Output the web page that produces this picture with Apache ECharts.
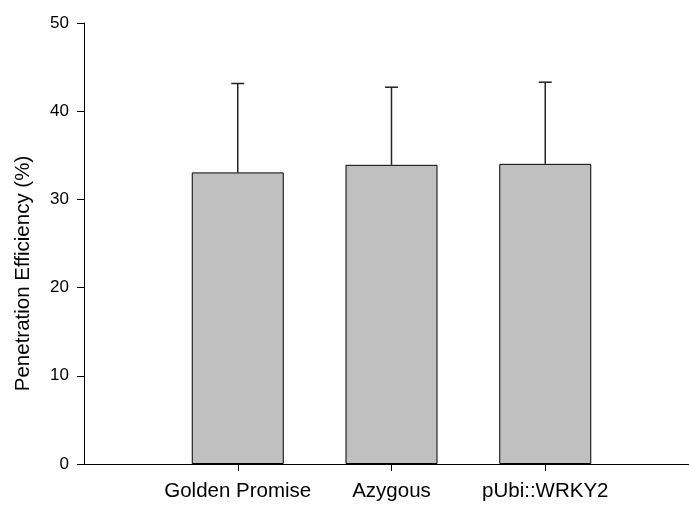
<!DOCTYPE html>
<html>
<head>
<meta charset="utf-8">
<script src="https://cdn.jsdelivr.net/npm/echarts@6/dist/echarts.min.js"></script>
<style>
  html, body { margin: 0; padding: 0; background: #fff; }
  #chart { width: 689px; height: 505px; }
</style>
</head>
<body>
<div id="chart"></div>
<script>
// Lines and their measured penetration efficiency
const categories = ['Golden Promise', 'Azygous', 'pUbi::WRKY2'];
const means = [33.06, 33.92, 34.03];
const errors = [10.08, 8.80, 9.26];
const yTicks = [0, 10, 20, 30, 40, 50];

const FONT = '"Liberation Sans", Arial, sans-serif';
const positions = categories.map((c, i) => i + 1);

const chart = echarts.init(document.getElementById('chart'), null, { renderer: 'canvas' });

chart.setOption({
  animation: false,
  backgroundColor: '#ffffff',
  // the x axis runs on past the right edge of the canvas
  grid: { left: 84, width: 615, top: 23, height: 441, containLabel: false, outerBoundsMode: 'none' },
  xAxis: {
    type: 'value',
    min: 0,
    max: 4,
    interval: 1,
    splitLine: { show: false },
    axisLine: { show: true, lineStyle: { color: '#000', width: 1 } },
    axisTick: { show: true, length: 7, customValues: positions, lineStyle: { color: '#000', width: 1 } },
    axisLabel: {
      customValues: positions,
      margin: 17,
      color: '#000',
      fontFamily: FONT,
      fontSize: 20.5,
      formatter: v => categories[Math.round(v) - 1] || ''
    }
  },
  yAxis: {
    type: 'value',
    min: yTicks[0],
    max: yTicks[yTicks.length - 1],
    interval: 10,
    name: 'Penetration Efficiency (%)',
    nameLocation: 'middle',
    nameGap: 50,
    nameTextStyle: { color: '#000', fontFamily: FONT, fontSize: 20.5, padding: [0, 60, 0, 0] },
    splitLine: { show: false },
    axisLine: { show: true, lineStyle: { color: '#000', width: 1 } },
    axisTick: { show: true, length: 7, inside: false, lineStyle: { color: '#000', width: 1 } },
    axisLabel: { margin: 15, color: '#000', fontFamily: FONT, fontSize: 17 }
  },
  series: [
    {
      type: 'bar',
      barWidth: 92,
      data: means.map((m, i) => [positions[i], m]),
      itemStyle: { color: '#c0c0c0', borderColor: '#000', borderWidth: 1 },
      z: 2
    },
    {
      type: 'custom',
      data: means.map((m, i) => [positions[i], m, m + errors[i]]),
      z: 3,
      renderItem: function (params, api) {
        const base = api.coord([api.value(0), api.value(1)]);
        const top = api.coord([api.value(0), api.value(2)]);
        const half = 6.5;
        const style = { stroke: '#222', lineWidth: 1.5 };
        return {
          type: 'group',
          children: [
            { type: 'line', shape: { x1: base[0], y1: base[1], x2: top[0], y2: top[1] }, style: style },
            { type: 'line', shape: { x1: top[0] - half, y1: top[1], x2: top[0] + half, y2: top[1] }, style: style }
          ]
        };
      }
    }
  ]
});
</script>
</body>
</html>
